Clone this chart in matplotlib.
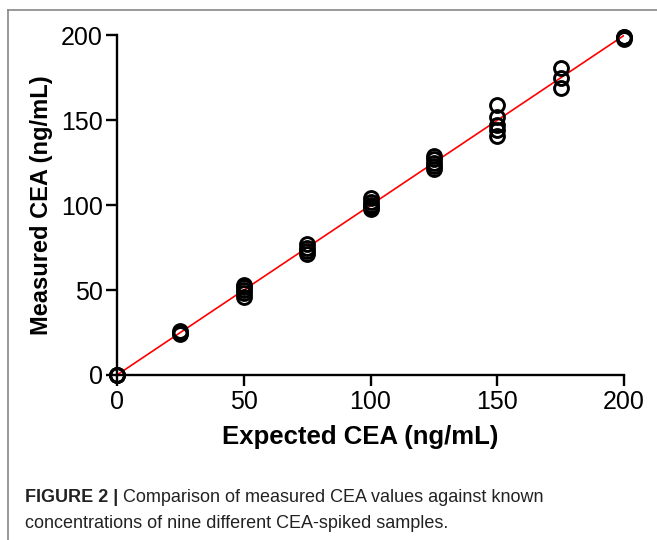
import matplotlib
matplotlib.use("Agg")
import matplotlib.pyplot as plt
from matplotlib.lines import Line2D

# expected concentrations (ng/mL) and replicate measurements
expected = [0, 25, 50, 75, 100, 125, 150, 175, 200]
measured = [
    [0, 0, 0],
    [24, 25, 26],
    [46, 48, 50, 52, 53],
    [71, 73, 75, 77],
    [98, 99, 100, 102, 104],
    [121, 123, 125, 127, 129],
    [141, 144, 147, 152, 159],
    [169, 175, 181],
    [198, 199, 199],
]
fit_x = [0, 200]
fit_y = [0, 200]

caption_bold = "FIGURE 2 |"
caption_1 = " Comparison of measured CEA values against known"
caption_2 = "concentrations of nine different CEA-spiked samples."

plt.rcParams["font.family"] = ["Liberation Sans", "DejaVu Sans"]

fig = plt.figure(figsize=(6.57, 5.4), dpi=100)
ax = fig.add_axes([0.178, 0.3056, 0.772, 0.629])

ax.plot(fit_x, fit_y, color="red", lw=1.2, zorder=2)
for x, ys in zip(expected, measured):
    ax.plot([x] * len(ys), ys, ls="none", marker="o", ms=10,
            mfc="none", mec="black", mew=2.1, clip_on=False, zorder=3)

ax.set_xlim(0, 200)
ax.set_ylim(0, 200)
ax.set_xticks(range(0, 201, 50))
ax.set_yticks(range(0, 201, 50))
for side in ["top", "right"]:
    ax.spines[side].set_visible(False)
for side in ["left", "bottom"]:
    ax.spines[side].set_linewidth(1.7)
ax.tick_params(direction="out", length=8, width=1.7, labelsize=18, pad=2)
ax.tick_params(axis="x", pad=3)

ax.set_xlabel("Expected CEA (ng/mL)", fontsize=18.5, fontweight="bold")
ax.xaxis.set_label_coords(0.48, -0.148)
ax.set_ylabel("Measured CEA (ng/mL)", fontsize=17, fontweight="bold", labelpad=6)

# page frame lines
fig.add_artist(Line2D([8 / 657, 1], [1 - 10 / 540, 1 - 10 / 540],
                      transform=fig.transFigure, color="#888888", lw=1.2))
fig.add_artist(Line2D([8 / 657, 8 / 657], [0, 1 - 10 / 540],
                      transform=fig.transFigure, color="#888888", lw=1.2))

t = fig.text(25 / 657, 1 - 497 / 540, caption_bold, fontsize=13,
             fontweight="bold", color="#222222", va="center")
fig.canvas.draw()
bb = t.get_window_extent(fig.canvas.get_renderer())
fig.text(bb.x1 / fig.bbox.width, 1 - 497 / 540, caption_1,
         fontsize=13, color="#222222", va="center")
fig.text(25 / 657, 1 - 523 / 540, caption_2,
         fontsize=13, color="#222222", va="center")

fig.savefig("out.png", dpi=100, facecolor="white")
